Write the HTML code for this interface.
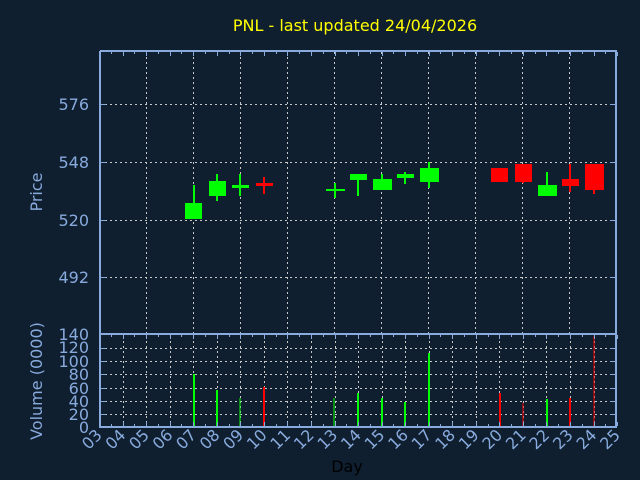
<!DOCTYPE html>
<html><head><style>html,body{margin:0;padding:0;background:#0f1f2f;}svg{display:block}</style></head>
<body>
<svg width="640" height="480" xmlns="http://www.w3.org/2000/svg" font-family="DejaVu Sans, Liberation Sans, sans-serif">
<rect width="640" height="480" fill="#0f1f2f"/>
<text x="355" y="31" fill="#ffff00" font-size="16" text-anchor="middle">PNL - last updated 24/04/2026</text>
<g stroke="#c8c8c8" stroke-width="1" stroke-dasharray="2,3">
<line x1="100" x2="616" y1="104.5" y2="104.5"/>
<line x1="100" x2="616" y1="162.5" y2="162.5"/>
<line x1="100" x2="616" y1="220.5" y2="220.5"/>
<line x1="100" x2="616" y1="277.5" y2="277.5"/>
<line x1="146.5" x2="146.5" y1="52" y2="333"/>
<line x1="193.5" x2="193.5" y1="52" y2="333"/>
<line x1="240.5" x2="240.5" y1="52" y2="333"/>
<line x1="287.5" x2="287.5" y1="52" y2="333"/>
<line x1="334.5" x2="334.5" y1="52" y2="333"/>
<line x1="381.5" x2="381.5" y1="52" y2="333"/>
<line x1="428.5" x2="428.5" y1="52" y2="333"/>
<line x1="475.5" x2="475.5" y1="52" y2="333"/>
<line x1="522.5" x2="522.5" y1="52" y2="333"/>
<line x1="569.5" x2="569.5" y1="52" y2="333"/>
<line x1="100" x2="616" y1="348.5" y2="348.5"/>
<line x1="100" x2="616" y1="361.5" y2="361.5"/>
<line x1="100" x2="616" y1="374.5" y2="374.5"/>
<line x1="100" x2="616" y1="388.5" y2="388.5"/>
<line x1="100" x2="616" y1="401.5" y2="401.5"/>
<line x1="100" x2="616" y1="414.5" y2="414.5"/>
</g>
<g stroke="#c8c8c8" stroke-dasharray="2,3" id="vv"></g>
<script>
var g=document.getElementById('vv');
for(var d=4;d<=24;d++){var x=Math.round(99+(d-3)*23.55)+0.5;var l=document.createElementNS('http://www.w3.org/2000/svg','line');l.setAttribute('x1',x);l.setAttribute('x2',x);l.setAttribute('y1',336);l.setAttribute('y2',427);g.appendChild(l);}
</script>
<g stroke-width="2">
<line x1="194" x2="194" y1="185" y2="219" stroke="#00ff00"/><rect x="185" y="203" width="17" height="16" fill="#00ff00"/>
<line x1="217" x2="217" y1="174" y2="201" stroke="#00ff00"/><rect x="209" y="181" width="17" height="15" fill="#00ff00"/>
<line x1="240" x2="240" y1="174" y2="196" stroke="#00ff00"/><rect x="232" y="185" width="17" height="3" fill="#00ff00"/>
<line x1="264" x2="264" y1="177" y2="194" stroke="#ff0000"/><rect x="256" y="183" width="17" height="3" fill="#ff0000"/>
<line x1="335" x2="335" y1="183" y2="198" stroke="#00ff00"/><rect x="326" y="189" width="19" height="2" fill="#00ff00"/>
<line x1="358" x2="358" y1="174" y2="196" stroke="#00ff00"/><rect x="350" y="174" width="17" height="6" fill="#00ff00"/>
<line x1="382" x2="382" y1="174" y2="190" stroke="#00ff00"/><rect x="373" y="179" width="19" height="11" fill="#00ff00"/>
<line x1="405" x2="405" y1="172" y2="184" stroke="#00ff00"/><rect x="397" y="174" width="17" height="4" fill="#00ff00"/>
<line x1="429" x2="429" y1="162" y2="188" stroke="#00ff00"/><rect x="420" y="168" width="19" height="14" fill="#00ff00"/>
<rect x="491" y="168" width="17" height="14" fill="#ff0000"/>
<line x1="523" x2="523" y1="164" y2="183" stroke="#ff0000"/><rect x="515" y="164" width="17" height="18" fill="#ff0000"/>
<line x1="547" x2="547" y1="172" y2="196" stroke="#00ff00"/><rect x="538" y="185" width="19" height="11" fill="#00ff00"/>
<line x1="570" x2="570" y1="164" y2="192" stroke="#ff0000"/><rect x="562" y="179" width="17" height="7" fill="#ff0000"/>
<line x1="594" x2="594" y1="164" y2="194" stroke="#ff0000"/><rect x="585" y="164" width="19" height="26" fill="#ff0000"/>
</g>
<g stroke-width="2">
<line x1="194" x2="194" y1="374" y2="427" stroke="#00ff00"/>
<line x1="217" x2="217" y1="390" y2="427" stroke="#00ff00"/>
<line x1="240" x2="240" y1="398" y2="427" stroke="#00ff00" stroke-width="1"/>
<line x1="264" x2="264" y1="387" y2="427" stroke="#ff0000"/>
<line x1="334" x2="334" y1="398" y2="427" stroke="#00ff00" stroke-width="1"/>
<line x1="358" x2="358" y1="393" y2="427" stroke="#00ff00"/>
<line x1="382" x2="382" y1="398" y2="427" stroke="#00ff00"/>
<line x1="405" x2="405" y1="402" y2="427" stroke="#00ff00"/>
<line x1="429" x2="429" y1="353" y2="427" stroke="#00ff00"/>
<line x1="500" x2="500" y1="393" y2="427" stroke="#ff0000"/>
<line x1="523" x2="523" y1="403" y2="427" stroke="#ff0000" stroke-width="1"/>
<line x1="547" x2="547" y1="399" y2="427" stroke="#00ff00"/>
<line x1="570" x2="570" y1="398" y2="427" stroke="#ff0000"/>
<line x1="594" x2="594" y1="336" y2="427" stroke="#ff0000" stroke-width="1"/>
</g>
<g stroke="#88aadd" fill="none" stroke-width="2">
<path d="M100 51 H616 V333 M100 51 V427 H616 V334 H100"/>
</g>
<g stroke="#88aadd" stroke-width="1" id="tk"></g>
<script>
var t=document.getElementById('tk');function L(a,b,c,d){var l=document.createElementNS('http://www.w3.org/2000/svg','line');l.setAttribute('x1',a);l.setAttribute('y1',b);l.setAttribute('x2',c);l.setAttribute('y2',d);t.appendChild(l);}
for(var i=0;i<=44;i++){var x=Math.round(99+i*11.775)+0.5;var s=(i%2==0)?4:2;L(x,52,x,52+s);L(x,426,x,426-s);L(x,335,x,335+s);}
[104.5,162.5,220.5,277.5].forEach(function(y){L(100,y,106,y);L(616,y,610,y);});
[348.5,361.5,374.5,388.5,401.5,414.5].forEach(function(y){L(100,y,106,y);L(616,y,610,y);});
</script>
<g fill="#88aadd" font-size="16" text-anchor="end">
<text x="89" y="110">576</text><text x="89" y="168">548</text><text x="89" y="226">520</text><text x="89" y="283">492</text>
<text x="89" y="340">140</text><text x="89" y="353">120</text><text x="89" y="367">100</text><text x="89" y="380">80</text><text x="89" y="394">60</text><text x="89" y="407">40</text><text x="89" y="420">20</text><text x="89" y="433">0</text>
</g>
<text transform="translate(42,192) rotate(-90)" fill="#88aadd" font-size="16" text-anchor="middle">Price</text>
<text transform="translate(42,381) rotate(-90)" fill="#88aadd" font-size="16" text-anchor="middle">Volume (0000)</text>
<g fill="#88aadd" font-size="16" id="xl"></g>
<script>
var xl=document.getElementById('xl');
for(var d=3;d<=25;d++){var x=99+(d-3)*23.55;var e=document.createElementNS('http://www.w3.org/2000/svg','text');e.setAttribute('transform','translate('+(x+4)+',436) rotate(-45)');e.setAttribute('text-anchor','end');e.textContent=(d<10?'0':'')+d;xl.appendChild(e);}
</script>
<text x="347" y="472" fill="#000000" font-size="16" text-anchor="middle">Day</text>
</svg>
</body></html>
